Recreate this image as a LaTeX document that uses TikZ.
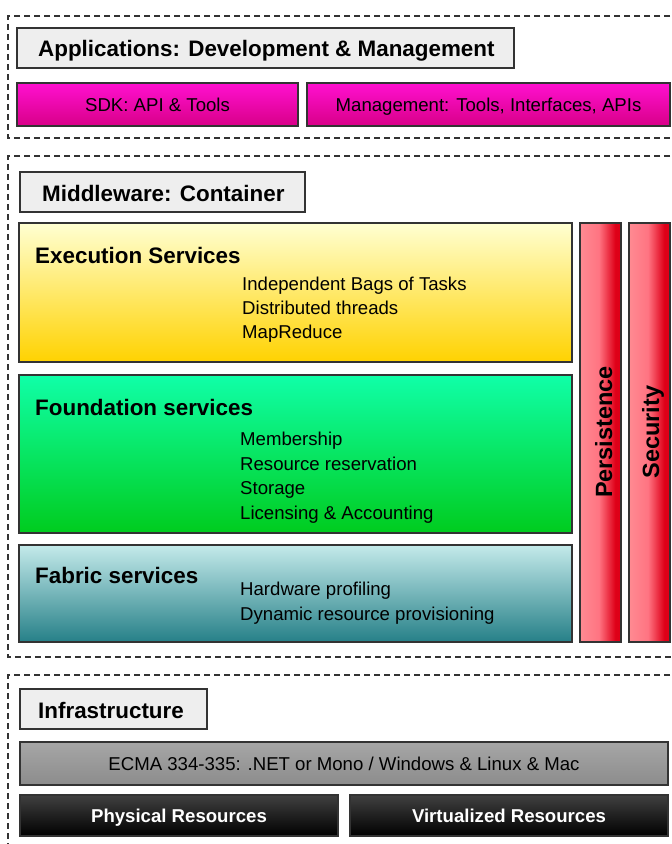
\documentclass[tikz,border=0pt]{standalone}
\usepackage{fontspec}
\setmainfont{Liberation Sans}
\usetikzlibrary{shadings}

% palette
\definecolor{edge}{HTML}{333333}
\definecolor{titlefill}{HTML}{EEEEEE}
\definecolor{magtop}{HTML}{FF10D0}
\definecolor{magbot}{HTML}{D80088}
\definecolor{yeltop}{HTML}{FFFFD2}
\definecolor{yelbot}{HTML}{FFD200}
\definecolor{grntop}{HTML}{10FFA8}
\definecolor{grnbot}{HTML}{00CC1E}
\definecolor{fabtop}{HTML}{C4EAEA}
\definecolor{fabbot}{HTML}{268088}
\definecolor{barA}{HTML}{FF8A92}
\definecolor{barB}{HTML}{FF7482}
\definecolor{barC}{HTML}{DE0018}
\definecolor{ecmatop}{HTML}{A6A6A6}
\definecolor{ecmabot}{HTML}{8C8C8C}
\definecolor{darktop}{HTML}{404040}
\definecolor{darkbot}{HTML}{000000}

% side bars: pale red that darkens towards the right edge
\pgfdeclarehorizontalshading{barshade}{100bp}{%
  color(0bp)=(barA); color(25bp)=(barA); color(48bp)=(barB);
  color(68bp)=(barC); color(75bp)=(barC); color(100bp)=(barC)}

\newcommand{\regfont}{\fontsize{18.6}{22}\selectfont}
\newcommand{\headfont}{\fontsize{22.4}{26}\selectfont\bfseries}
\newcommand{\barfont}{\fontsize{23.5}{28}\selectfont\bfseries}

\tikzset{
  x=1pt, y=-1pt,
  layer/.style={draw=edge, line width=1.2pt, dash pattern=on 6pt off 4pt},
  panel/.style={draw=edge, line width=1.3pt, inner sep=0pt, outer sep=0pt,
    anchor=north west, rectangle},
  titlebox/.style={panel, fill=titlefill},
  magbox/.style={panel, top color=magtop, bottom color=magbot},
  execbox/.style={panel, top color=yeltop, bottom color=yelbot},
  foundbox/.style={panel, top color=grntop, bottom color=grnbot},
  fabbox/.style={panel, top color=fabtop, bottom color=fabbot},
  sidebar/.style={panel, shading=barshade},
  ecmabox/.style={panel, top color=ecmatop, bottom color=ecmabot},
  darkbox/.style={panel, top color=darktop, bottom color=darkbot},
  head/.style={font=\headfont, inner sep=0pt, anchor=base west},
  item/.style={font=\regfont, inner sep=0pt, anchor=base west},
  label/.style={font=\regfont, inner sep=0pt, anchor=base},
  barlabel/.style={font=\barfont, inner sep=0pt, rotate=90, anchor=base},
}

\begin{document}
\begin{tikzpicture}
\useasboundingbox (0,0) rectangle (672,844);

% ---------- dashed layer frames ----------
\draw[layer] (690,16) -- (8,16) -- (8,138) -- (690,138);
\draw[layer] (690,156) -- (8,156) -- (8,657) -- (690,657);
\draw[layer] (690,675) -- (8,675) -- (8,860);

% ---------- applications layer ----------
\node[titlebox, minimum width=497pt, minimum height=40pt] (apps) at (17,28) {};
\node[head] (appsT) at (38,56) {Applications: Development \& Management};
\node[magbox, minimum width=281pt, minimum height=43pt] (sdk) at (17,83) {};
\node[label] (sdkT) at ([yshift=-6.8pt]sdk.center) {SDK: API \& Tools};
\node[magbox, minimum width=363pt, minimum height=43pt] (mgmt) at (307,83) {};
\node[label] (mgmtT) at ([yshift=-6.8pt]mgmt.center) {Management: Tools, Interfaces, APIs};

% ---------- middleware layer ----------
\node[titlebox, minimum width=285pt, minimum height=40pt] (mw) at (20,172) {};
\node[head] (mwT) at (42,201) {Middleware: Container};

\node[execbox, minimum width=553pt, minimum height=139pt] (exec) at (19,223) {};
\node[head] (execT) at (35,263) {Execution Services};
\node[item] (exec1) at (242,290.5) {Independent Bags of Tasks};
\node[item] (exec2) at (242,314.5) {Distributed threads};
\node[item] (exec3) at (242,338.5) {MapReduce};

\node[foundbox, minimum width=553pt, minimum height=158pt] (found) at (19,375) {};
\node[head] (foundT) at (35,415) {Foundation services};
\node[item] (found1) at (240,445.5) {Membership};
\node[item] (found2) at (240,470) {Resource reservation};
\node[item] (found3) at (240,494.5) {Storage};
\node[item] (found4) at (240,519) {Licensing \& Accounting};

\node[fabbox, minimum width=553pt, minimum height=97pt] (fab) at (19,545) {};
\node[head] (fabT) at (35,583.5) {Fabric services};
\node[item] (fab1) at (240,595.5) {Hardware profiling};
\node[item] (fab2) at (240,620) {Dynamic resource provisioning};

\node[sidebar, minimum width=41pt, minimum height=419pt] (pers) at (580,223) {};
\node[barlabel] (persT) at (612,432) {Persistence};
\node[sidebar, minimum width=41pt, minimum height=419pt] (sec) at (629,223) {};
\node[barlabel] (secT) at (659,432) {Security};

% ---------- infrastructure layer ----------
\node[titlebox, minimum width=187pt, minimum height=40pt] (infra) at (20,689) {};
\node[head] (infraT) at (38,718) {Infrastructure};
\node[ecmabox, minimum width=648pt, minimum height=43pt] (ecma) at (20,742) {};
\node[label] (ecmaT) at ([yshift=-6.8pt]ecma.center) {ECMA 334-335: .NET or Mono / Windows \& Linux \& Mac};
\node[darkbox, minimum width=318pt, minimum height=41pt] (phys) at (20,795) {};
\node[label, text=white, font=\regfont\bfseries] (physT) at ([yshift=-6.8pt]phys.center) {Physical Resources};
\node[darkbox, minimum width=318pt, minimum height=41pt] (virt) at (350,795) {};
\node[label, text=white, font=\regfont\bfseries] (virtT) at ([yshift=-6.8pt]virt.center) {Virtualized Resources};
\end{tikzpicture}
\end{document}
